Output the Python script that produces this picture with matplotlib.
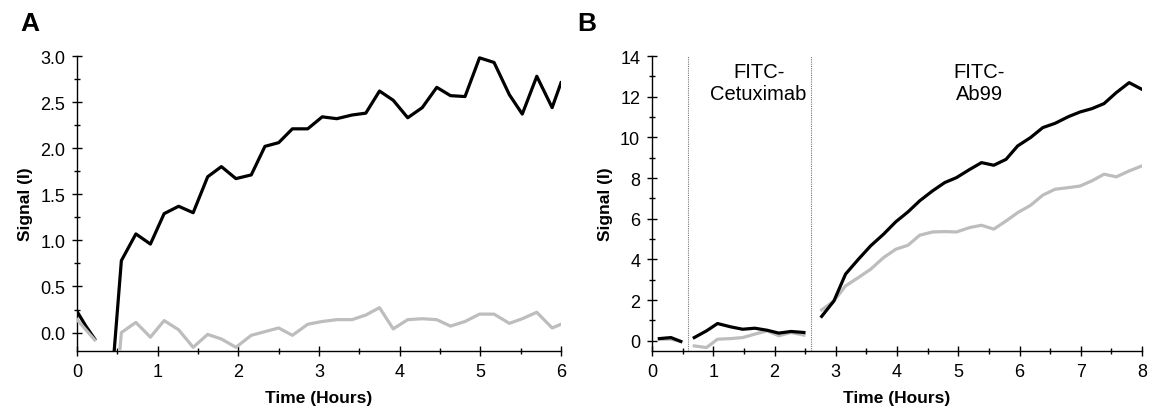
import numpy as np
import matplotlib.pyplot as plt
from matplotlib.ticker import MultipleLocator

plt.rcParams['font.family'] = ['Liberation Sans', 'DejaVu Sans']

nan = np.nan

# --------- panel A ---------
t_a = [0, 0.11, 0.22, nan, 0.37, 0.55, 0.73, 0.91, 1.08, 1.26, 1.44, 1.62, 1.79,
       1.97, 2.16, 2.33, 2.50, 2.67, 2.86, 3.04, 3.22, 3.41, 3.58, 3.75, 3.92,
       4.10, 4.28, 4.46, 4.63, 4.81, 4.99, 5.17, 5.36, 5.52, 5.70, 5.89, 6.00]
a_black = [0.23, 0.07, -0.07, nan, -1.2, 0.78, 1.07, 0.96, 1.29, 1.37, 1.30, 1.69, 1.80,
           1.67, 1.71, 2.02, 2.06, 2.21, 2.21, 2.34, 2.32, 2.36, 2.38, 2.62, 2.52,
           2.33, 2.44, 2.66, 2.57, 2.56, 2.98, 2.93, 2.58, 2.37, 2.78, 2.44, 2.71]
a_grey = [0.14, 0.03, -0.08, nan, -1.8, 0.00, 0.11, -0.05, 0.13, 0.03, -0.16, -0.02, -0.07,
          -0.16, -0.03, 0.01, 0.05, -0.03, 0.09, 0.12, 0.14, 0.14, 0.19, 0.27, 0.04,
          0.14, 0.15, 0.14, 0.07, 0.12, 0.20, 0.20, 0.10, 0.15, 0.22, 0.05, 0.09]

# --------- panel B ---------
t_b = [0.12, 0.31, 0.47, nan,
       0.69, 0.89, 1.07, 1.28, 1.48, 1.68, 1.88, 2.07, 2.27, 2.48, nan,
       2.77, 2.97, 3.16, 3.37, 3.57, 3.78, 3.98, 4.18, 4.37, 4.58, 4.78, 4.97,
       5.19, 5.38, 5.58, 5.78, 5.97, 6.18, 6.38, 6.58, 6.80, 6.99, 7.18, 7.38,
       7.58, 7.79, 8.00]
b_black = [0.11, 0.16, -0.03, nan,
           0.16, 0.49, 0.85, 0.69, 0.57, 0.62, 0.52, 0.38, 0.46, 0.41, nan,
           1.20, 1.96, 3.28, 4.01, 4.67, 5.24, 5.85, 6.34, 6.88, 7.37, 7.78, 8.02,
           8.43, 8.76, 8.63, 8.92, 9.58, 9.99, 10.48, 10.69, 11.02, 11.25, 11.41, 11.66,
           12.20, 12.69, 12.36]
b_grey = [0.08, 0.08, -0.03, nan,
          -0.25, -0.33, 0.08, 0.11, 0.16, 0.33, 0.49, 0.25, 0.41, 0.28, nan,
          1.52, 1.96, 2.70, 3.11, 3.52, 4.09, 4.50, 4.70, 5.19, 5.35, 5.37, 5.35,
          5.57, 5.68, 5.49, 5.89, 6.30, 6.66, 7.16, 7.45, 7.53, 7.61, 7.86, 8.19,
          8.06, 8.35, 8.60]

# antibody addition times and labels (panel B)
switch_times = [0.58, 2.60]
labels_b = ['FITC-\nCetuximab', 'FITC-\nAb99']
label_x = [1.74, 5.34]

grey = '#bdbdbd'
lw = 2.3

fig = plt.figure(figsize=(11.49, 4.14), dpi=100)
ax1 = fig.add_axes([77/1149, 1-352/414, 484/1149, 295/414])
ax2 = fig.add_axes([652/1149, 1-352/414, 490/1149, 295/414])

ax1.plot(t_a, a_black, color='black', lw=lw, zorder=2)
ax1.plot(t_a, a_grey, color=grey, lw=lw, zorder=3)
ax1.set_xlim(0, 6)
ax1.set_ylim(-0.2, 3.0)
ax1.xaxis.set_major_locator(MultipleLocator(1))
ax1.xaxis.set_minor_locator(MultipleLocator(0.5))
ax1.yaxis.set_major_locator(MultipleLocator(0.5))
ax1.yaxis.set_minor_locator(MultipleLocator(0.25))
ax1.yaxis.set_major_formatter(plt.FormatStrFormatter('%.1f'))

ax2.plot(t_b, b_grey, color=grey, lw=lw, zorder=2)
ax2.plot(t_b, b_black, color='black', lw=lw, zorder=3)
for xv in switch_times:
    ax2.axvline(xv, color='#777777', lw=0.8, ls=(0, (1, 1)), zorder=1)
for xv, txt in zip(label_x, labels_b):
    ax2.text(xv, 12.7, txt, ha='center', va='center', fontsize=14.5, linespacing=1.2)
ax2.set_xlim(0, 8)
ax2.set_ylim(-0.5, 14)
ax2.xaxis.set_major_locator(MultipleLocator(1))
ax2.xaxis.set_minor_locator(MultipleLocator(0.5))
ax2.yaxis.set_major_locator(MultipleLocator(2))
ax2.yaxis.set_minor_locator(MultipleLocator(1))

for ax in (ax1, ax2):
    for s in ('top', 'right'):
        ax.spines[s].set_visible(False)
    for s in ('left', 'bottom'):
        ax.spines[s].set_linewidth(1.0)
    ax.tick_params(which='major', direction='inout', length=7, width=1.0,
                   labelsize=13, pad=5)
    ax.tick_params(which='minor', direction='inout', length=4, width=1.0)
    ax.set_xlabel('Time (Hours)', fontsize=12.5, fontweight='bold', labelpad=7)
    ax.set_ylabel('Signal (I)', fontsize=12.5, fontweight='bold', labelpad=5)

fig.text(20/1149, 1-12/414, 'A', fontsize=19, fontweight='bold', va='top')
fig.text(577/1149, 1-12/414, 'B', fontsize=19, fontweight='bold', va='top')

fig.savefig('out.png', dpi=100)
